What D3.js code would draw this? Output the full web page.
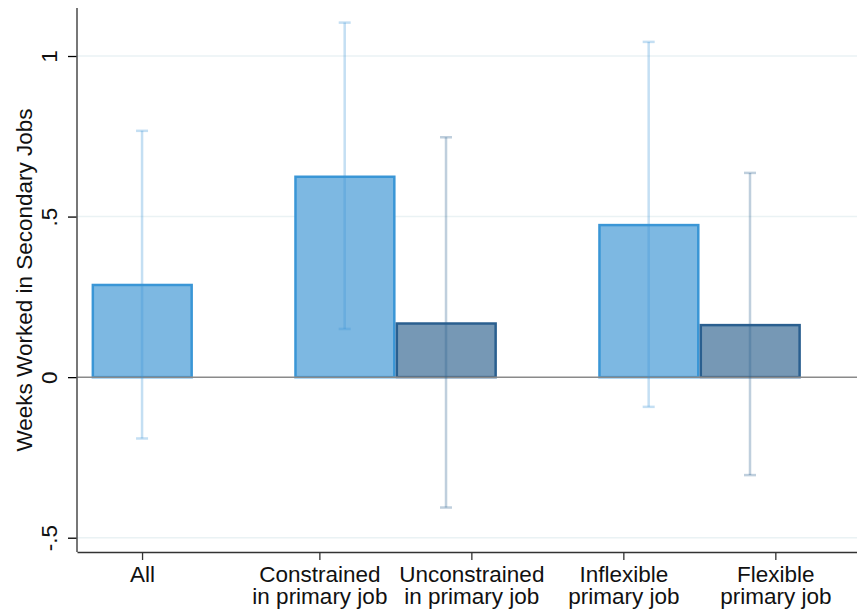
<!DOCTYPE html>
<html>
<head>
<meta charset="utf-8">
<script src="https://cdn.jsdelivr.net/npm/d3@7"></script>
<style>
  html, body { margin: 0; padding: 0; background: #fff; }
  svg { display: block; font-family: "Liberation Sans", Arial, sans-serif; }
</style>
</head>
<body>
<svg id="chart" width="857" height="610"></svg>
<script>
// ---- data ----
const barLabels = ["All", "Constrained", "Unconstrained", "Inflexible", "Flexible"];
const barSlots  = [0, 2, 3, 5, 6];                 // slot position of each bar
const barGroup  = ["light", "light", "dark", "light", "dark"];
const barValues = [0.287, 0.624, 0.167, 0.4735, 0.162];
const ciLow     = [-0.191, 0.150, -0.406, -0.0925, -0.305];
const ciHigh    = [0.767, 1.104, 0.747, 1.044, 0.636];

const tickSlots  = [0, 1.75, 3.25, 4.75, 6.25];
const tickLines  = [["All"], ["Constrained", "in primary job"], ["Unconstrained", "in primary job"],
                    ["Inflexible", "primary job"], ["Flexible", "primary job"]];
const yTicks      = [-0.5, 0, 0.5, 1];
const yTickLabels = ["-.5", "0", ".5", "1"];
const yTitle = "Weeks Worked in Secondary Jobs";

// ---- layout ----
const svg = d3.select("#chart");
const mLeft = 77, mRight = 857, mTop = 8, mBottom = 552;
const fs = 22.5;

const x = d3.scaleLinear().domain([-0.642, 7.056]).range([mLeft, mRight]);
const y = d3.scaleLinear().domain([-0.5445, 1.1495]).range([mBottom, mTop]);
const slotW = x(1) - x(0);

const colors = {
  light: { fill: "#7db8e2", stroke: "#3a96d6" },
  dark:  { fill: "#7698b5", stroke: "#2a5f8f" }
};

// grid lines
svg.append("g").selectAll("line").data(yTicks.filter(d => d !== 0)).join("line")
  .attr("x1", mLeft).attr("x2", mRight)
  .attr("y1", d => y(d)).attr("y2", d => y(d))
  .attr("stroke", "#eaf2f4").attr("stroke-width", 1.5);

// bars
const data = barLabels.map((l, i) => ({
  label: l, slot: barSlots[i], g: barGroup[i], v: barValues[i], lo: ciLow[i], hi: ciHigh[i]
}));
const bw = slotW - 2.5;
svg.append("g").selectAll("rect").data(data).join("rect")
  .attr("x", d => x(d.slot) - bw / 2 + 0.2)
  .attr("width", bw)
  .attr("y", d => y(Math.max(0, d.v)))
  .attr("height", d => Math.abs(y(d.v) - y(0)))
  .attr("fill", d => colors[d.g].fill)
  .attr("stroke", d => colors[d.g].stroke)
  .attr("stroke-width", 2.5);

// zero line
svg.append("line")
  .attr("x1", mLeft).attr("x2", mRight)
  .attr("y1", y(0)).attr("y2", y(0))
  .attr("stroke", "#8a8a8a").attr("stroke-width", 1.5);

// error bars
const eb = svg.append("g").selectAll("g").data(data).join("g")
  .attr("stroke", d => colors[d.g].stroke)
  .attr("stroke-opacity", 0.3)
  .attr("stroke-width", 2.5);
eb.append("line")
  .attr("x1", d => x(d.slot)).attr("x2", d => x(d.slot))
  .attr("y1", d => y(d.lo)).attr("y2", d => y(d.hi));
eb.append("line")
  .attr("x1", d => x(d.slot) - 6).attr("x2", d => x(d.slot) + 6)
  .attr("y1", d => y(d.hi)).attr("y2", d => y(d.hi));
eb.append("line")
  .attr("x1", d => x(d.slot) - 6).attr("x2", d => x(d.slot) + 6)
  .attr("y1", d => y(d.lo)).attr("y2", d => y(d.lo));

// y axis
const yAxis = d3.axisLeft(y).tickValues(yTicks)
  .tickFormat((d, i) => yTickLabels[i]).tickSize(9).tickPadding(0);
const ya = svg.append("g").attr("transform", `translate(${mLeft},0)`).call(yAxis);
ya.select(".domain").remove();
ya.selectAll(".tick line").attr("stroke", "#000").attr("stroke-width", 1.3);
ya.selectAll(".tick text")
  .attr("font-size", fs).attr("fill", "#111")
  .attr("text-anchor", "middle")
  .attr("x", 0).attr("y", 0).attr("dy", 0)
  .attr("transform", "translate(-20,0) rotate(-90)");
svg.append("line")
  .attr("x1", mLeft).attr("x2", mLeft)
  .attr("y1", mTop).attr("y2", mBottom)
  .attr("stroke", "#555").attr("stroke-width", 1.6);

// x axis
const xAxis = d3.axisBottom(x).tickValues(tickSlots).tickFormat("").tickSize(8).tickSizeOuter(0);
const xa = svg.append("g").attr("transform", `translate(0,${mBottom})`).call(xAxis);
xa.select(".domain").attr("stroke", "#333").attr("stroke-width", 1.5);
xa.selectAll(".tick line").attr("stroke", "#333").attr("stroke-width", 1.3);
xa.selectAll(".tick").each(function (d, i) {
  const t = d3.select(this).append("text")
    .attr("text-anchor", "middle").attr("fill", "#111").attr("font-size", fs);
  tickLines[i].forEach((ln, j) => {
    t.append("tspan").attr("x", 0).attr("y", 30 + j * 21.6).text(ln);
  });
});

// y title
svg.append("text")
  .attr("transform", `translate(31.5,${(mTop + mBottom) / 2}) rotate(-90)`)
  .attr("text-anchor", "middle").attr("font-size", fs).attr("fill", "#111")
  .text(yTitle);
</script>
</body>
</html>
